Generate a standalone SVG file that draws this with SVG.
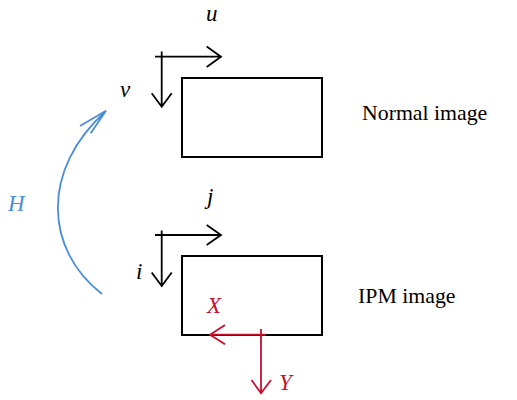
<svg xmlns="http://www.w3.org/2000/svg" width="517" height="400" viewBox="0 0 517 400">
<style>
.box{fill:none;stroke:#000;stroke-width:2}
.ax{fill:none;stroke:#000;stroke-width:1.8}
.rax{fill:none;stroke:#C8102E;stroke-width:1.8}
.lbl{font-family:"Liberation Serif",serif;font-style:italic;font-size:23px}
.txt{font-family:"Liberation Serif",serif;font-size:21.8px;fill:#000}
</style>
<rect width="517" height="400" fill="#fff"/>
<g id="normal">
<rect class="box" x="182" y="78" width="140" height="79"/>
<text class="txt" x="362" y="120">Normal image</text>
</g>
<g id="ipm">
<rect class="box" x="182" y="256" width="140" height="79"/>
<text class="txt" x="358" y="303">IPM image</text>
</g>
<g id="connectors">
<path class="ax" d="M155,56.7H221M206.7,46.5L221,56.7L206.7,67M161.7,51.5V106.5M151.7,93.3L161.7,106.7L171.7,93.3"/>
<path class="ax" d="M155,235H221M206.7,225L221,235L206.7,245M161.7,230.5V286M151.7,272.5L161.7,286L171.7,272.5"/>
<path class="rax" d="M266,334.7H210M225,325L210,334.7L225,344.3M261,329V393M251.5,380L261,393.3L271,380"/>
<path d="M102,294C45,250 40,170 106,111M80,126L106,110.7L90.7,133.3" fill="none" stroke="#4A8EDB" stroke-width="1.8"/>
</g>
<text class="lbl" x="206" y="21" fill="#000">u</text>
<text class="lbl" x="120" y="97" fill="#000">v</text>
<text class="lbl" x="207" y="204" fill="#000">j</text>
<text class="lbl" x="136" y="279" fill="#000">i</text>
<text class="lbl" x="8" y="211" fill="#4A8EDB">H</text>
<text class="lbl" x="207" y="313" fill="#C8102E">X</text>
<text class="lbl" x="279" y="390" fill="#C8102E">Y</text>
</svg>
